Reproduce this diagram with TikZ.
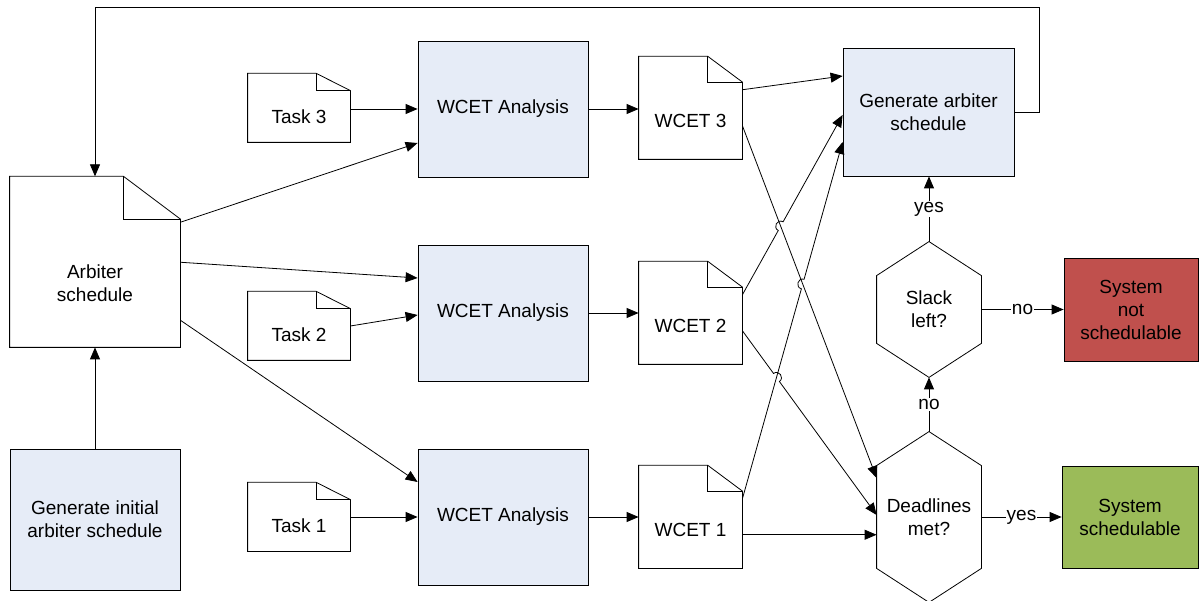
\documentclass[tikz,border=0pt]{standalone}
\usepackage{fontspec}
\setmainfont{Liberation Sans}
\usepackage{xcolor}
\usepackage{tikz}
\usetikzlibrary{positioning, calc, arrows.meta}

\definecolor{procfill}{HTML}{E6ECF7}
\definecolor{failfill}{HTML}{C0504D}
\definecolor{okfill}{HTML}{9BBB59}

% document outline: the node is the part below the fold
\newcommand{\docline}[1]{%
  \coordinate (#1-t) at ($(#1.north east)!-1/3!(#1.south east)$);
  \coordinate (#1-f) at ($(#1.north east)!1/3!(#1.north west)$);
  \draw (#1.north east) -- (#1-t -| #1-f) -- (#1-t -| #1.west) -- (#1.south west) -- (#1.south east) -- cycle;
  \draw (#1-t -| #1-f) |- (#1.north east);}
% hexagon outline for the decisions
\newcommand{\hexline}[1]{%
  \draw (#1.north) -- ([yshift=-34pt]#1.north east) -- ([yshift=34pt]#1.south east) -- (#1.south)
    -- ([yshift=34pt]#1.south west) -- ([yshift=-34pt]#1.north west) -- cycle;}

\begin{document}
\begin{tikzpicture}[x=1pt,y=-1pt,>={Triangle[length=12pt,width=10pt]},line width=0.8pt]
	\tikzstyle{process}=[rectangle,draw,fill=procfill,align=center,inner sep=0pt,font=\fontsize{19}{23}\selectfont]
	\tikzstyle{doc}=[rectangle,align=center,inner sep=0pt,font=\fontsize{19}{23}\selectfont]
	\tikzstyle{decision}=[rectangle,minimum width=104pt,align=center,inner sep=0pt,font=\fontsize{19}{23}\selectfont]
	\tikzstyle{lbl}=[fill=white,inner sep=1pt,font=\fontsize{19}{23}\selectfont]
	\useasboundingbox (0,0) rectangle (1200,601);

	\node[process,minimum width=170pt,minimum height=141pt](init) at (95,519.5) {Generate initial\\arbiter schedule};
	\node[doc,minimum width=170pt,minimum height=127.5pt](arb) at (95,283.25) {Arbiter\\schedule};
	\node[doc,minimum width=102pt,minimum height=51pt](t3) at (299,116.5) {Task 3};
	\node[doc,minimum width=102pt,minimum height=51pt](t2) at (299,334.5) {Task 2};
	\node[doc,minimum width=102pt,minimum height=51pt](t1) at (299,525.5) {Task 1};
	\node[process,minimum width=170pt,minimum height=136pt](a3) at (503,109) {WCET Analysis};
	\node[process,minimum width=170pt,minimum height=136pt](a2) at (503,313) {WCET Analysis};
	\node[process,minimum width=170pt,minimum height=136pt](a1) at (503,517) {WCET Analysis};
	\node[doc,minimum width=103pt,minimum height=76.5pt](w3) at (690.5,120.75) {WCET 3};
	\node[doc,minimum width=103pt,minimum height=76.5pt](w2) at (690.5,325.75) {WCET 2};
	\node[doc,minimum width=103pt,minimum height=76.5pt](w1) at (690.5,529.75) {WCET 1};
	\node[process,minimum width=171pt,minimum height=128pt](gen) at (928.5,112) {Generate arbiter\\schedule};
	\node[decision,minimum height=135pt](sl) at (929,309.5) {Slack\\left?};
	\node[decision,minimum height=170pt](dm) at (929,517) {Deadlines\\met?};
	\node[process,fill=failfill,minimum width=134pt,minimum height=103pt](ns) at (1131,309.5) {System\\not\\schedulable};
	\node[process,fill=okfill,minimum width=136pt,minimum height=102pt](ok) at (1130,517) {System\\schedulable};

	\docline{arb} \docline{t3} \docline{t2} \docline{t1}
	\docline{w3} \docline{w2} \docline{w1}
	\hexline{sl} \hexline{dm}

	\path[->]
		(init.north) edge (arb.south)
		([yshift=61pt]arb.east) edge ([yshift=-34pt]a3.west)
		([yshift=21pt]arb.east) edge ([yshift=35pt]a2.west)
		([yshift=-37pt]arb.east) edge ([yshift=35pt]a1.west)
		(t3.east |- a3.west) edge (a3.west)
		([yshift=8.5pt]t2.east) edge ([yshift=-2pt]a2.west)
		(t1.east |- a1.west) edge (a1.west)
		(a3.east) edge (a3.east -| w3.west)
		(a2.east) edge (a2.east -| w2.west)
		(a1.east) edge (a1.east -| w1.west)
		([yshift=31pt]w3.east) edge ([yshift=36pt]gen.west)
		([yshift=-5pt]w3.east) edge ([yshift=39pt]dm.west)
		([yshift=-5pt]w1.east) edge ([yshift=-5pt]w1.east -| dm.west)
		(dm.north) edge node[lbl] {no} (sl.south)
		(sl.north) edge node[lbl] {yes} (sl.north |- gen.south)
		(sl.east) edge node[lbl] {no} (ns.west)
		(dm.east) edge node[lbl] {yes} (ok.west);

	% crossing lines with hops
	\coordinate (w2g) at ([yshift=31pt]w2.east);
	\coordinate (g2) at ([yshift=-3pt]gen.west);
	\coordinate (w1g) at ([yshift=31pt]w1.east);
	\coordinate (g1) at ([yshift=-30pt]gen.west);
	\coordinate (w3d) at ([yshift=-5pt]w3.east);
	\coordinate (d3) at ([yshift=39pt]dm.west);
	\coordinate (w2d) at ([yshift=-5pt]w2.east);
	\coordinate (d2) at ([yshift=2pt]dm.west);
	\coordinate (h1) at (intersection of w2g--g2 and w3d--d3);
	\coordinate (h2) at (intersection of w1g--g1 and w3d--d3);
	\coordinate (h3) at (intersection of w2d--d2 and w1g--g1);
	\draw[->] (w2g) -- ($(h1)!5pt!(w2g)$) to[bend left=90,looseness=1.7] ($(h1)!5pt!(g2)$) -- (g2);
	\draw[->] (w1g) -- ($(h2)!5pt!(w1g)$) to[bend left=90,looseness=1.7] ($(h2)!5pt!(g1)$) -- (g1);
	\draw[->] (w2d) -- ($(h3)!5pt!(w2d)$) to[bend left=90,looseness=1.7] ($(h3)!5pt!(d2)$) -- (d2);

	% loop back to the arbiter schedule
	\coordinate (fbtop) at (1039,7);
	\draw[->] (gen.east) -| (fbtop) -| (arb.center |- arb-t);
\end{tikzpicture}
\end{document}
